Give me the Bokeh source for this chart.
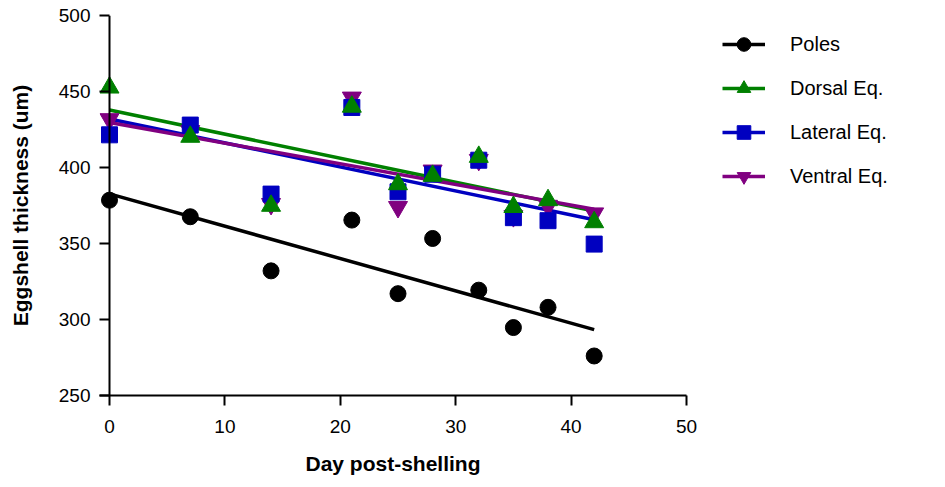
import numpy as np
from bokeh.plotting import figure
from bokeh.models import Legend, LegendItem, FixedTicker, Span
from bokeh.embed import file_html
from bokeh.resources import INLINE

days = [0, 7, 14, 21, 25, 28, 32, 35, 38, 42]
poles = [378.5, 367.6, 332, 365.4, 317, 353.3, 319.3, 294.7, 308, 276]
dorsal = [452.6, 420.2, 374.8, 440, 389, 394.5, 407, 374, 378.5, 364]
lateral = [421.5, 427.9, 382.5, 439.5, 384, 395.6, 404.8, 367, 365, 349.6]
ventral = [431.8, 424, 376, 446, 374, 398, 405, 368, 374.8, 369.8]

series_names = ["Poles", "Dorsal Eq.", "Lateral Eq.", "Ventral Eq."]
x_ticks = [0, 10, 20, 30, 40, 50]
y_ticks = [250, 300, 350, 400, 450, 500]

FONT = "Liberation Sans"
LEFT = 99
PAD_PX = 10
FRAME_W = 686 - LEFT
x_pad = PAD_PX * 50 / (FRAME_W - PAD_PX)

p = figure(frame_width=FRAME_W, frame_height=380, output_backend="svg", toolbar_location=None,
           x_range=(-x_pad, 50), y_range=(250, 500),
           min_border_left=LEFT, min_border_right=0, min_border_top=15, min_border_bottom=92)

p.xgrid.visible = False
p.ygrid.visible = False
p.outline_line_color = None
p.background_fill_color = "white"

for ax in (p.xaxis[0], p.yaxis[0]):
    ax.axis_line_width = 2
    ax.axis_line_color = "black"
    ax.major_tick_line_width = 2
    ax.major_tick_line_color = "black"
    ax.minor_tick_line_color = None
    ax.major_label_text_font = FONT
    ax.major_label_text_font_size = "19px"
    ax.major_label_text_color = "black"
    ax.axis_label_text_font = FONT
    ax.axis_label_text_font_style = "bold"
    ax.axis_label_text_font_size = "21px"
    ax.axis_label_text_color = "black"

p.xaxis.major_tick_out = 10
p.xaxis.major_tick_in = 0
# y axis: ticks run from the frame edge to the x=0 axis line
p.yaxis.axis_line_color = None
p.yaxis.major_tick_out = 0
p.yaxis.major_tick_in = PAD_PX
p.add_layout(Span(location=0, dimension="height", line_color="black", line_width=2))

p.xaxis.ticker = FixedTicker(ticks=x_ticks)
p.yaxis.ticker = FixedTicker(ticks=y_ticks)
p.xaxis.major_label_standoff = 14
p.yaxis.major_label_standoff = 9
p.xaxis.axis_label = "Day post-shelling"
p.yaxis.axis_label = "Eggshell thickness (um)"
p.xaxis.axis_label_standoff = 16
p.yaxis.axis_label_standoff = 24

x = np.array(days, dtype=float)
xfit = np.array([min(days), max(days)], dtype=float)

specs = [
    ("Poles", poles, "black", "circle", 16),
    ("Dorsal Eq.", dorsal, "#008000", "triangle", 19),
    ("Lateral Eq.", lateral, "#0000C0", "square", 16),
    ("Ventral Eq.", ventral, "#800080", "inverted_triangle", 19),
]

line_r = {}
for name, vals, col, mk, sz in specs:
    k, b = np.polyfit(x, np.array(vals, dtype=float), 1)
    line_r[name] = p.line(xfit, k * xfit + b, line_color=col, line_width=3.5)

scat_r = {}
draw_order = ["Poles", "Ventral Eq.", "Lateral Eq.", "Dorsal Eq."]
spec_map = {s[0]: s for s in specs}
for name in draw_order:
    _, vals, col, mk, sz = spec_map[name]
    scat_r[name] = p.scatter(days, vals, marker=mk, size=sz, fill_color=col, line_color=col)

items = [LegendItem(label=n, renderers=[line_r[n], scat_r[n]]) for n in series_names]
legend = Legend(items=items, location=(36, 202),
                glyph_width=43, glyph_height=34, spacing=10, label_height=34,
                label_standoff=25, padding=0, margin=0,
                border_line_color=None, background_fill_alpha=0,
                label_text_font=FONT, label_text_font_size="20px", label_text_color="black")
p.add_layout(legend, "right")

open("out.html", "w").write(file_html(p, INLINE))
